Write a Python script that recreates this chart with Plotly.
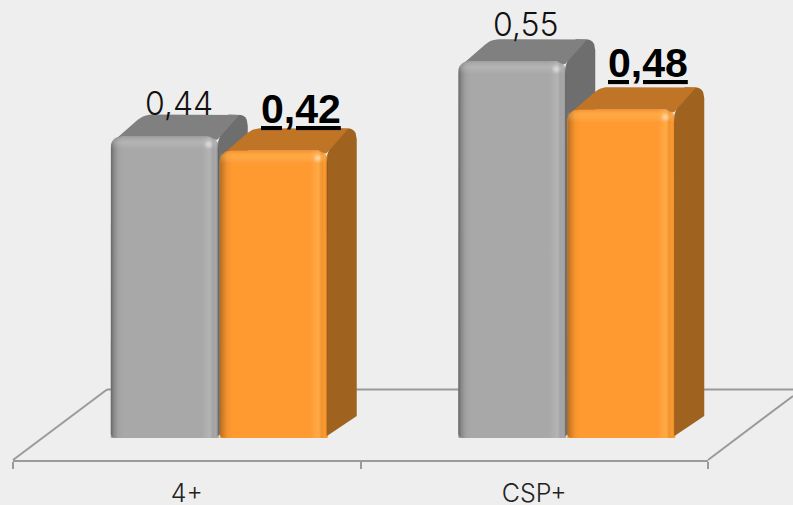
import plotly.graph_objects as go

categories = ["4+", "CSP+"]
grey_values = [0.44, 0.55]
orange_values = [0.42, 0.48]
grey_labels = ["0,44", "0,55"]
orange_labels = ["0,42", "0,48"]

W, H = 793, 505
ML, MR, MT, MB = 13, 85, 0, 45
PX_X = 347.5          # pixels per category
PX_Y = 685.0          # pixels per unit of value
Y0_PX = 438.0
XR = [-0.5, 1.5]
YR = [-(460 - Y0_PX) / PX_Y, Y0_PX / PX_Y]
BG = "#EEEEEE"
LINE = "#9A9A9A"
LIGHT_FONT = "Inter"


def dx(p):
    return p / PX_X


def dy(p):
    return p / PX_Y


def rounded(pts, radii, n=6):
    """Polygon in (x, y) with each corner rounded by radius in pixels."""
    out_x, out_y = [], []
    m = len(pts)
    for i in range(m):
        px, py = pts[i]
        ax, ay = pts[i - 1]
        bx, by = pts[(i + 1) % m]
        r = radii[i]

        def toward(qx, qy):
            vx, vy = (qx - px) * PX_X, (qy - py) * PX_Y
            d = (vx * vx + vy * vy) ** 0.5
            t = min(r / d, 0.5) if d else 0
            return px + (qx - px) * t, py + (qy - py) * t

        s = toward(ax, ay)
        e = toward(bx, by)
        for k in range(n + 1):
            t = k / n
            out_x.append((1 - t) ** 2 * s[0] + 2 * t * (1 - t) * px + t * t * e[0])
            out_y.append((1 - t) ** 2 * s[1] + 2 * t * (1 - t) * py + t * t * e[1])
    out_x.append(out_x[0])
    out_y.append(out_y[0])
    return out_x, out_y


def poly(xs, ys, color=None, grad=None, ax=("x", "y")):
    t = dict(x=xs, y=ys, mode="lines", line=dict(width=0), fill="toself",
             hoverinfo="skip", showlegend=False, xaxis=ax[0], yaxis=ax[1])
    if grad:
        t["fillgradient"] = grad
    else:
        t["fillcolor"] = color
    return go.Scatter(**t)


def column(fig, values, off_px, front, top, side, ax, band, left_dark):
    xs_idx = list(range(len(values)))
    w = 108
    depth_x, depth_y = 29, 22
    fig.add_trace(go.Bar(x=xs_idx, y=values, width=dx(w), offset=dx(off_px),
                         marker=dict(color=front, line=dict(width=0), cornerradius=11),
                         showlegend=False, hoverinfo="skip", xaxis=ax[0], yaxis=ax[1]))
    for i, v in zip(xs_idx, values):
        l = i + dx(off_px)
        r = l + dx(w)
        dX, dY = dx(depth_x), dy(depth_y)
        # side face and rounded back corner
        X, Y = rounded([(r - dx(1), v - dy(6)), (r + dX - dx(20), v + dY), (r + dX, v + dY),
                        (r + dX, dY), (r - dx(1), dy(1))],
                       [1, 1, 11, 0, 3])
        fig.add_trace(poly(X, Y, color=side, ax=ax))
        # top face
        X, Y = rounded([(l + dx(2), v - dy(5)), (l + dX + dx(4), v + dY), (r + dX - dx(8), v + dY),
                        (r - dx(2), v - dy(4)), (r - dx(8), v), (l + dx(8), v)],
                       [3, 8, 1, 2, 3, 3])
        fig.add_trace(poly(X, Y, color=top, ax=ax))
        # horizontal shading of the front
        X, Y = rounded([(l, 0), (l, v), (r, v), (r, 0)], [5, 11, 11, 5])
        fig.add_trace(poly(X, Y, grad=dict(type="horizontal", colorscale=[
            [0.0, left_dark], [0.03, "rgba(0,0,0,0.18)"], [0.07, "rgba(0,0,0,0.04)"],
            [0.12, "rgba(0,0,0,0)"], [0.84, "rgba(255,255,255,0)"],
            [0.92, band], [0.97, "rgba(0,0,0,0)"], [1.0, "rgba(0,0,0,0.14)"]]), ax=ax))
        # top bevel of the front
        X, Y = rounded([(l, v - dy(13)), (l, v), (r, v), (r, v - dy(13))], [0, 11, 11, 0])
        fig.add_trace(poly(X, Y, grad=dict(type="vertical", colorscale=[
            [0.0, "rgba(255,255,255,0)"], [0.55, band], [0.8, "rgba(255,255,255,0.04)"],
            [1.0, "rgba(0,0,0,0.08)"]]), ax=ax))
        # highlight near the corner
        for size, alpha in ((9, 0.14), (5, 0.3)):
            fig.add_trace(go.Scatter(x=[r - dx(10)], y=[v - dy(8)], mode="markers",
                                     marker=dict(size=size, color=f"rgba(255,255,255,{alpha})", line=dict(width=0)),
                                     hoverinfo="skip", showlegend=False, xaxis=ax[0], yaxis=ax[1]))


fig = go.Figure()
column(fig, grey_values, -76, "#A8A8A8", "#808080", "#6E6E6E", ("x", "y"),
       "rgba(255,255,255,0.14)", "rgba(0,0,0,0.40)")
column(fig, orange_values, 33, "#FF9A30", "#BF7426", "#A0631F", ("x2", "y2"),
       "rgba(255,220,120,0.22)", "rgba(0,0,0,0.30)")

# Value labels
annotations = []
for i, (v, t) in enumerate(zip(grey_values, grey_labels)):
    annotations.append(dict(x=i, y=v, xref="x", yref="y", text=t, showarrow=False,
                            xanchor="center", yanchor="bottom", xshift=-8, yshift=12 + 3 * i,
                            font=dict(family=LIGHT_FONT, weight=300, size=32, color="#111111")))
for i, (v, t) in enumerate(zip(orange_values, orange_labels)):
    annotations.append(dict(x=i, y=v, xref="x", yref="y", text=f"<u>{t}</u>", showarrow=False,
                            xanchor="center", yanchor="bottom", xshift=114, yshift=16 + 5 * i,
                            font=dict(family="Liberation Sans", weight="bold", size=41, color="#000000")))


def px(x):
    return (x - ML) / (W - ML - MR)


def py(y):
    return (460 - y) / (460 - MT)


floor = [((107, 389.5), (793, 389.5)), ((13, 460), (107, 389.5)), ((708, 460), (793, 396))]
shapes = [dict(type="line", xref="paper", yref="paper", layer="below",
               x0=px(a[0]), y0=py(a[1]), x1=px(b[0]), y1=py(b[1]),
               line=dict(color=LINE, width=2)) for a, b in floor]

fig.update_layout(
    width=W, height=H, autosize=False,
    margin=dict(l=ML, r=MR, t=MT, b=MB, pad=0, autoexpand=False),
    paper_bgcolor=BG, plot_bgcolor=BG,
    barmode="overlay", showlegend=False,
    annotations=annotations, shapes=shapes,
    xaxis=dict(range=XR, tickvals=[0, 1], ticktext=categories, showgrid=False, zeroline=False,
               automargin=False,
               showline=True, linecolor=LINE, linewidth=2, ticks="", ticklabelstandoff=10,
               tickfont=dict(family=LIGHT_FONT, weight=300, size=25, color="#222222"),
               minor=dict(tickvals=[-0.5, 0.5, 1.5], ticks="outside", ticklen=7, tickwidth=2,
                          tickcolor=LINE, showgrid=False)),
    yaxis=dict(range=YR, visible=False, showgrid=False, zeroline=False),
    xaxis2=dict(range=XR, overlaying="x", visible=False, anchor="y2"),
    yaxis2=dict(range=YR, overlaying="y", visible=False, anchor="x2"),
)

fig.write_html("out.html", config=dict(displayModeBar=False),
               post_script="document.body.style.margin='0';document.body.style.background='#EEEEEE';document.documentElement.style.overflow='hidden';")
